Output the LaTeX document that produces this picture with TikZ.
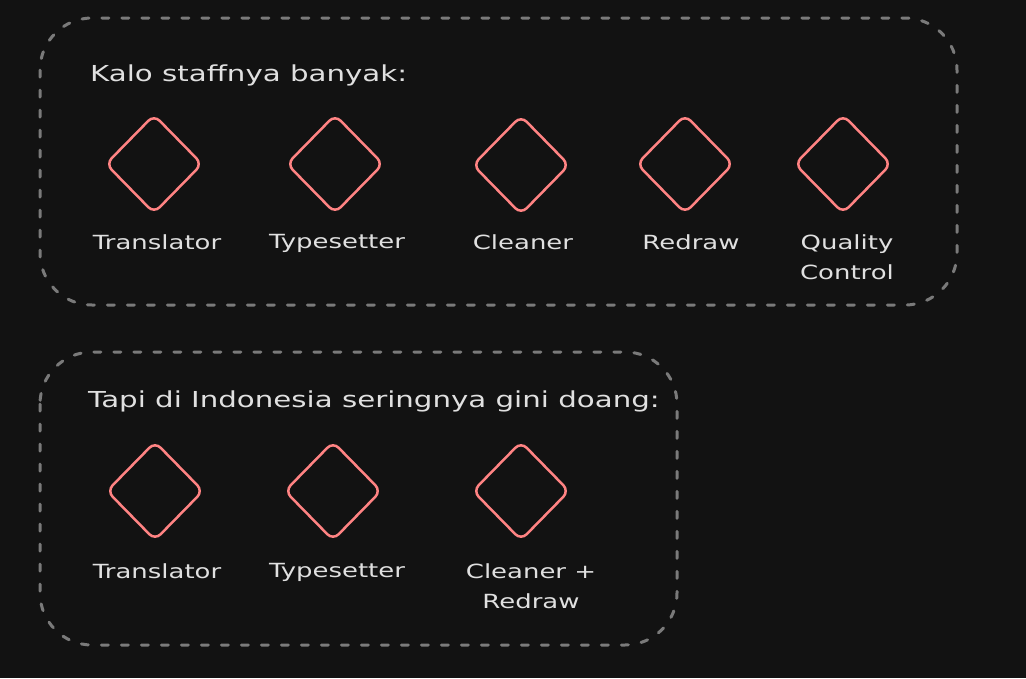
\documentclass[tikz,border=0pt]{standalone}
\usepackage{fontspec}
\setmainfont{DejaVu Sans}
\newfontfamily\handfont[FakeStretch=1.33]{DejaVu Sans}
\usetikzlibrary{shapes.geometric}
\definecolor{bg}{HTML}{121212}
\definecolor{frame}{HTML}{7A7A7A}
\definecolor{coral}{HTML}{FF8383}
\definecolor{txt}{HTML}{E0E0E0}
\tikzset{
  groupbox/.style={draw=frame, line width=3pt, line cap=round, dash pattern=on 7pt off 13pt, rounded corners=52pt},
  role/.style={diamond, draw=coral, line width=2.5pt, minimum width=97pt, minimum height=99pt, inner sep=0pt, rounded corners=8pt},
  lbl/.style={text=txt, font=\handfont\fontsize{19.5}{30}\selectfont, align=center, anchor=north, inner sep=0pt},
  title/.style={text=txt, font=\handfont\fontsize{22}{26}\selectfont, anchor=west, inner sep=0pt}
}
\begin{document}
\begin{tikzpicture}[x=1pt,y=-1pt]
\fill[bg] (0,0) rectangle (1026,678);
\useasboundingbox (0,0) rectangle (1026,678);
\draw[groupbox] (40,18) rectangle (957,305);
\draw[groupbox] (40,352) rectangle (677,645);
\node[title] (t1) at (90,75) {Kalo staffnya banyak:};
\node[title] (t2) at (88,401) {Tapi di Indonesia seringnya gini doang:};
\node[role] (a1) at (154,164) {};
\node[role] (a2) at (335,164) {};
\node[role] (a3) at (521,165) {};
\node[role] (a4) at (685,164) {};
\node[role] (a5) at (843,164) {};
\node[lbl] (l1) at (157,234) {Translator};
\node[lbl] (l2) at (337,234) {Typesetter};
\node[lbl] (l3) at (523,234) {Cleaner};
\node[lbl] (l4) at (691,234) {Redraw};
\node[lbl] (l5) at (847,234) {Quality\\Control};
\node[role] (b1) at (155,491) {};
\node[role] (b2) at (333,491) {};
\node[role] (b3) at (521,491) {};
\node[lbl] (m1) at (157,563) {Translator};
\node[lbl] (m2) at (337,563) {Typesetter};
\node[lbl] (m3) at (531,563) {Cleaner +\\Redraw};
\end{tikzpicture}
\end{document}
